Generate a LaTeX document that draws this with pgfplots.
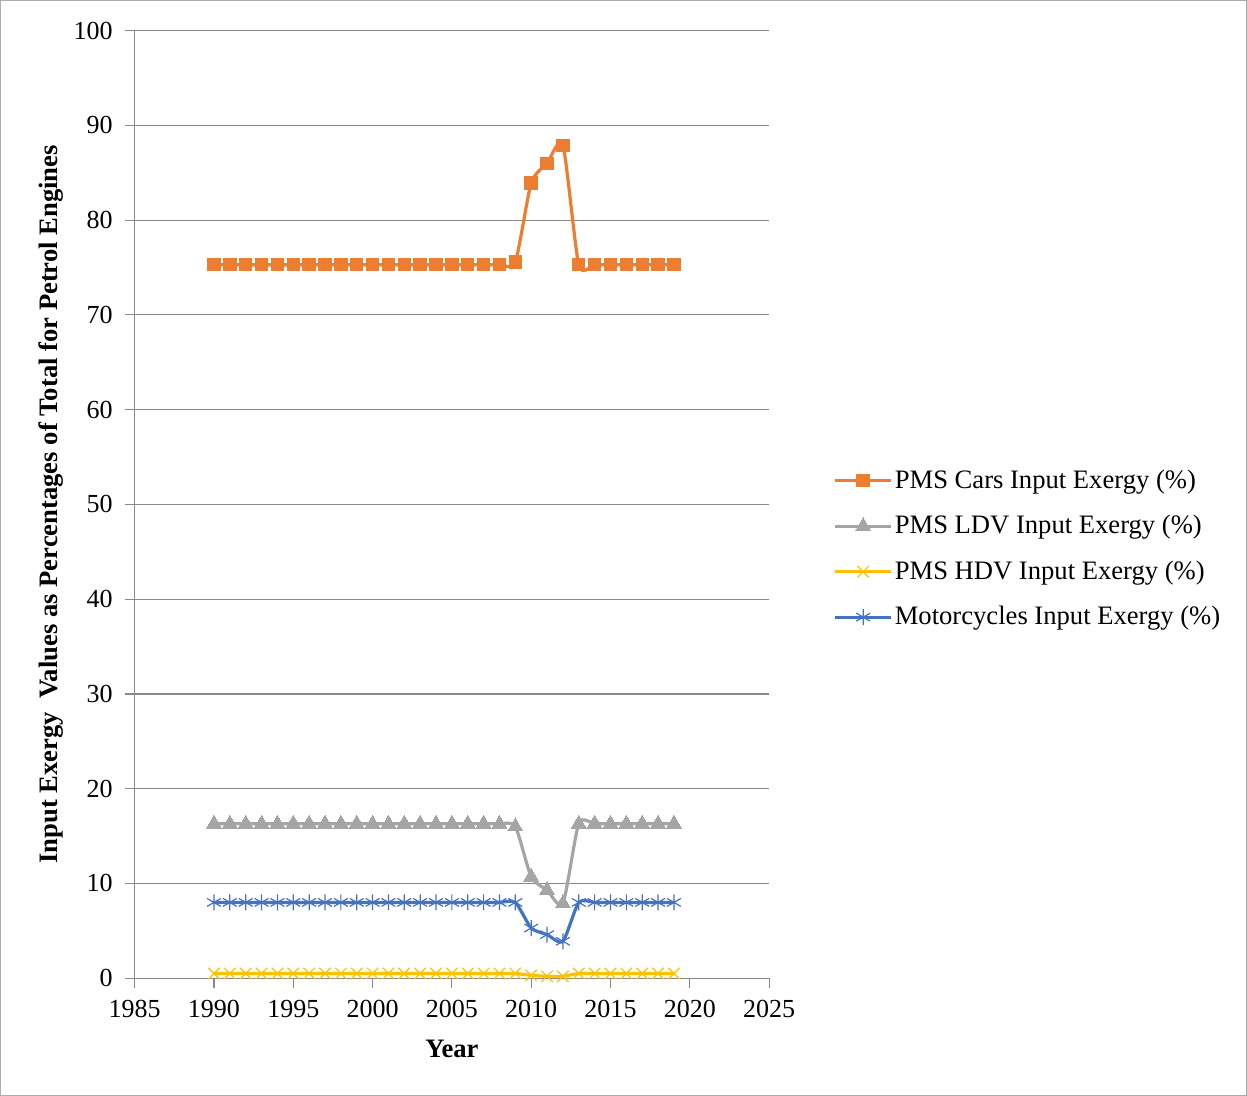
\documentclass[border=0pt]{standalone}
\usepackage{fontspec}
\setmainfont{Liberation Serif}
\usepackage{pgfplots}
\pgfplotsset{compat=1.18}

\definecolor{cOrange}{HTML}{ED7D31}
\definecolor{cGray}{HTML}{A5A5A5}
\definecolor{cYellow}{HTML}{FFC000}
\definecolor{cBlue}{HTML}{4472C4}
\definecolor{cAxis}{HTML}{898989}

\begin{document}
\begin{tikzpicture}
\begin{axis}[
  scale only axis,
  width=317pt, height=473.5pt,
  xmin=1985, xmax=2025, ymin=0, ymax=100,
  xtick={1985,1990,...,2025},
  ytick={0,10,...,100},
  axis x line*=bottom, axis y line*=left,
  axis line style={cAxis, line width=0.6pt},
  tick align=outside,
  major tick length=5pt,
  tick style={cAxis, line width=0.6pt},
  ymajorgrids,
  grid style={cAxis, line width=0.6pt},
  x tick label style={/pgf/number format/1000 sep={}, yshift=-2.5pt},
  y tick label style={xshift=-2.5pt},
  /pgf/number format/assume math mode=true,
  tick label style={font=\fontsize{13}{15}\selectfont},
  xlabel={\textbf{Year}},
  ylabel={\textbf{Input Exergy\ \ Values as Percentages of Total for Petrol Engines}},
  label style={font=\fontsize{13.3}{15}\selectfont},
  xlabel style={yshift=-4pt},
  ylabel style={yshift=-2pt},
  legend style={draw=none, fill=none, at={(1.0915,0.453)}, anchor=west,
    font=\fontsize{13.3}{15}\selectfont, row sep=8pt,
    nodes={inner xsep=1pt},
    /tikz/every odd column/.append style={column sep=0pt}},
  legend cell align=left,
  legend image code/.code={
    \draw[mark repeat=2,mark phase=2] plot coordinates {(0pt,0pt) (14pt,0pt) (28pt,0pt)};
  },
  every axis plot/.append style={line width=1.6pt, smooth, tension=0.4},
]
\addplot[color=cOrange, mark=square*, mark size=3.1pt, mark options={solid, line width=0pt, fill=cOrange}] coordinates {
(1990,75.3)(1991,75.3)(1992,75.3)(1993,75.3)(1994,75.3)(1995,75.3)(1996,75.3)(1997,75.3)(1998,75.3)(1999,75.3)
(2000,75.3)(2001,75.3)(2002,75.3)(2003,75.3)(2004,75.3)(2005,75.3)(2006,75.3)(2007,75.3)(2008,75.3)(2009,75.6)
(2010,83.9)(2011,86.0)(2012,87.9)(2013,75.3)(2014,75.3)(2015,75.3)(2016,75.3)(2017,75.3)(2018,75.3)(2019,75.3)
};
\addlegendentry{PMS Cars Input Exergy (\%)}
\addplot[color=cGray, mark=triangle*, mark size=4.3pt, mark options={solid, line width=0pt, fill=cGray}] coordinates {
(1990,16.3)(1991,16.3)(1992,16.3)(1993,16.3)(1994,16.3)(1995,16.3)(1996,16.3)(1997,16.3)(1998,16.3)(1999,16.3)
(2000,16.3)(2001,16.3)(2002,16.3)(2003,16.3)(2004,16.3)(2005,16.3)(2006,16.3)(2007,16.3)(2008,16.3)(2009,16.0)
(2010,10.7)(2011,9.3)(2012,7.9)(2013,16.3)(2014,16.3)(2015,16.3)(2016,16.3)(2017,16.3)(2018,16.3)(2019,16.3)
};
\addlegendentry{PMS LDV Input Exergy (\%)}
\addplot[color=cYellow, mark=x, mark size=4pt, mark options={solid, line width=0.6pt}] coordinates {
(1990,0.5)(1991,0.5)(1992,0.5)(1993,0.5)(1994,0.5)(1995,0.5)(1996,0.5)(1997,0.5)(1998,0.5)(1999,0.5)
(2000,0.5)(2001,0.5)(2002,0.5)(2003,0.5)(2004,0.5)(2005,0.5)(2006,0.5)(2007,0.5)(2008,0.5)(2009,0.5)
(2010,0.3)(2011,0.2)(2012,0.2)(2013,0.5)(2014,0.5)(2015,0.5)(2016,0.5)(2017,0.5)(2018,0.5)(2019,0.5)
};
\addlegendentry{PMS HDV Input Exergy (\%)}
\addplot[color=cBlue, mark=asterisk, mark size=4pt, mark options={solid, line width=0.6pt}] coordinates {
(1990,8.0)(1991,8.0)(1992,8.0)(1993,8.0)(1994,8.0)(1995,8.0)(1996,8.0)(1997,8.0)(1998,8.0)(1999,8.0)
(2000,8.0)(2001,8.0)(2002,8.0)(2003,8.0)(2004,8.0)(2005,8.0)(2006,8.0)(2007,8.0)(2008,8.0)(2009,8.0)
(2010,5.3)(2011,4.6)(2012,3.9)(2013,8.0)(2014,8.0)(2015,8.0)(2016,8.0)(2017,8.0)(2018,8.0)(2019,8.0)
};
\addlegendentry{Motorcycles Input Exergy (\%)}
\end{axis}
% outer frame of the chart area
\draw[cAxis!70, line width=0.6pt] (-67pt,-58.5pt) rectangle (555.5pt,488.5pt);
\end{tikzpicture}
\end{document}
